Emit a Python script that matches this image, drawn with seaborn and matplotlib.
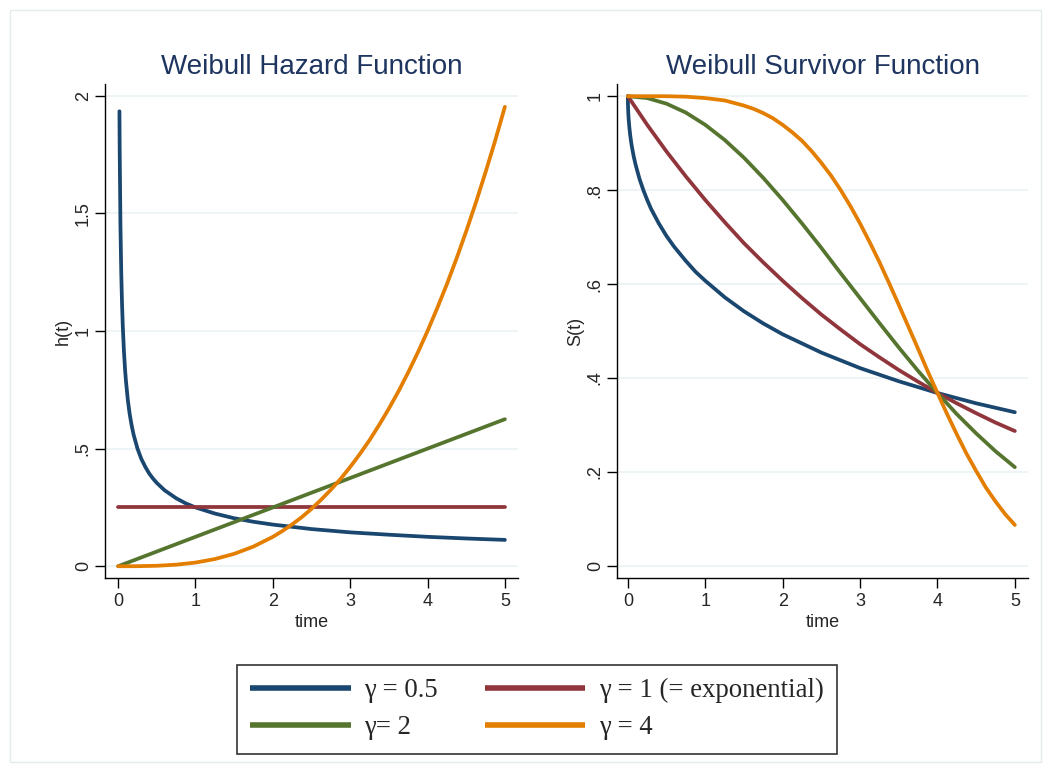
import matplotlib.pyplot as plt
import matplotlib.patches as mpatches
from matplotlib.lines import Line2D
import seaborn as sns
import pandas as pd

# hazard h(t)
haz_t_05 = [0.0167, 0.02, 0.03, 0.04, 0.05, 0.06, 0.075, 0.09, 0.1, 0.125, 0.15, 0.175, 0.2,
            0.25, 0.3, 0.35, 0.4, 0.45, 0.5, 0.6, 0.75, 0.875, 1.0, 1.25, 1.5, 1.75, 2.0,
            2.5, 3.0, 3.5, 4.0, 4.5, 5.0]
haz_05 = [1.934, 1.768, 1.443, 1.25, 1.118, 1.021, 0.913, 0.833, 0.791, 0.707, 0.645, 0.598, 0.559,
          0.5, 0.456, 0.423, 0.395, 0.373, 0.354, 0.323, 0.289, 0.267, 0.25, 0.224, 0.204, 0.189, 0.177,
          0.158, 0.144, 0.134, 0.125, 0.118, 0.112]
haz_t_1 = [0.0, 5.0]
haz_1 = [0.25, 0.25]
haz_t_2 = [0.0, 5.0]
haz_2 = [0.0, 0.625]
haz_t_4 = [0.0, 0.25, 0.5, 0.75, 1.0, 1.25, 1.5, 1.75, 2.0, 2.125, 2.25, 2.375, 2.5, 2.625,
           2.75, 2.875, 3.0, 3.125, 3.25, 3.375, 3.5, 3.625, 3.75, 3.875, 4.0, 4.125, 4.25,
           4.375, 4.5, 4.625, 4.75, 4.875, 5.0]
haz_4 = [0.0, 0.0002, 0.002, 0.0066, 0.0156, 0.0305, 0.0527, 0.0837, 0.125, 0.150, 0.178, 0.209,
         0.244, 0.283, 0.325, 0.371, 0.422, 0.477, 0.536, 0.601, 0.670, 0.744, 0.824, 0.909,
         1.0, 1.097, 1.199, 1.308, 1.424, 1.546, 1.675, 1.810, 1.953]

# survivor S(t)
surv_t_05 = [0.0, 0.001, 0.002, 0.005, 0.01, 0.02, 0.03, 0.04, 0.05, 0.075, 0.1, 0.15, 0.2,
             0.25, 0.3, 0.4, 0.5, 0.6, 0.75, 0.875, 1.0, 1.25, 1.5, 1.75, 2.0, 2.5, 3.0,
             3.5, 4.0, 4.5, 5.0]
surv_05 = [1.0, 0.984, 0.978, 0.965, 0.951, 0.932, 0.917, 0.905, 0.894, 0.872, 0.854, 0.824, 0.800,
           0.779, 0.760, 0.729, 0.702, 0.679, 0.649, 0.626, 0.607, 0.572, 0.542, 0.516, 0.493,
           0.454, 0.421, 0.393, 0.368, 0.346, 0.327]
surv_t = [0.0, 0.25, 0.5, 0.75, 1.0, 1.25, 1.5, 1.75, 2.0, 2.25, 2.5, 2.75, 3.0,
          3.25, 3.5, 3.75, 4.0, 4.25, 4.5, 4.75, 5.0]
surv_1 = [1.0, 0.939, 0.882, 0.829, 0.779, 0.732, 0.687, 0.646, 0.607, 0.570, 0.535, 0.503, 0.472,
          0.444, 0.417, 0.392, 0.368, 0.346, 0.325, 0.305, 0.287]
surv_2 = [1.0, 0.996, 0.984, 0.965, 0.939, 0.907, 0.869, 0.826, 0.779, 0.729, 0.677, 0.623, 0.570,
          0.517, 0.465, 0.415, 0.368, 0.323, 0.282, 0.244, 0.210]
surv_t_4 = [0.0, 0.25, 0.5, 0.75, 1.0, 1.25, 1.5, 1.625, 1.75, 1.875, 2.0, 2.125, 2.25, 2.375,
            2.5, 2.625, 2.75, 2.875, 3.0, 3.125, 3.25, 3.375, 3.5, 3.625, 3.75, 3.875, 4.0,
            4.125, 4.25, 4.375, 4.5, 4.625, 4.75, 4.875, 5.0]
surv_4 = [1.0, 1.0, 1.0, 0.999, 0.996, 0.991, 0.980, 0.973, 0.964, 0.953, 0.939, 0.923, 0.905, 0.883,
          0.858, 0.831, 0.800, 0.766, 0.729, 0.689, 0.647, 0.602, 0.556, 0.509, 0.462, 0.414, 0.368,
          0.323, 0.280, 0.239, 0.202, 0.167, 0.137, 0.110, 0.087]

labels = ["\u03b3 = 0.5", "\u03b3 = 1 (= exponential)", "\u03b3= 2", "\u03b3 = 4"]
colors = ["#1a476f", "#90353b", "#55752f", "#e37e00"]

sns.set_style("white")
plt.rcParams["font.family"] = ["Liberation Sans", "DejaVu Sans"]

fig = plt.figure(figsize=(10.51, 7.72), dpi=100)
fig.patch.set_facecolor("white")
fig.add_artist(mpatches.Rectangle((10 / 1051, 10 / 772), 1031 / 1051, 752 / 772,
                                  transform=fig.transFigure, fill=False,
                                  edgecolor="#e4eced", linewidth=1.0))

ax1 = fig.add_axes([0.0999, 0.2513, 0.3930, 0.6399])
ax2 = fig.add_axes([0.5871, 0.2513, 0.3910, 0.6399])

haz = [(haz_t_05, haz_05), (haz_t_1, haz_1), (haz_t_2, haz_2), (haz_t_4, haz_4)]
surv = [(surv_t_05, surv_05), (surv_t, surv_1), (surv_t, surv_2), (surv_t_4, surv_4)]

for ax, series in [(ax1, haz), (ax2, surv)]:
    for (t, v), c in zip(series, colors):
        df = pd.DataFrame({"t": t, "v": v})
        sns.lineplot(data=df, x="t", y="v", ax=ax, color=c, linewidth=2.7,
                     estimator=None, sort=False, solid_capstyle="round")

title_kw = dict(fontsize=20, color="#1e3560", pad=7)
ax1.set_title("Weibull Hazard Function", **title_kw)
ax2.set_title("Weibull Survivor Function", **title_kw)

ax1.set_xlim(-0.17, 5.17)
ax1.set_ylim(-0.05, 2.05)
ax1.set_yticks([0, 0.5, 1, 1.5, 2])
ax1.set_yticklabels(["0", ".5", "1", "1.5", "2"])
ax1.set_ylabel("h(t)", fontsize=13, labelpad=2)

ax2.set_xlim(-0.14, 5.17)
ax2.set_ylim(-0.026, 1.026)
ax2.set_yticks([0, 0.2, 0.4, 0.6, 0.8, 1])
ax2.set_yticklabels(["0", ".2", ".4", ".6", ".8", "1"])
ax2.set_ylabel("S(t)", fontsize=13, labelpad=2)

for ax in (ax1, ax2):
    ax.set_xticks([0, 1, 2, 3, 4, 5])
    ax.set_xticklabels(["0", "1", "2", "3", "4", "5"])
    ax.set_xlabel("time", fontsize=13)
    ax.xaxis.set_label_coords(0.5, -0.073)
    ax.tick_params(axis="both", direction="out", length=7, width=1.0, color="black",
                   labelsize=13, pad=4, left=True, bottom=True)
    ax.tick_params(axis="y", labelrotation=90, pad=2.5)
    for lbl in ax.get_yticklabels():
        lbl.set_verticalalignment("center")
    ax.grid(axis="y", color="#eaf2f3", linewidth=1.2)
    ax.grid(axis="x", visible=False)
    ax.set_axisbelow(True)
    for side in ("top", "right"):
        ax.spines[side].set_visible(False)
    for side in ("left", "bottom"):
        ax.spines[side].set_color("black")
        ax.spines[side].set_linewidth(1.0)

handles = [Line2D([], [], color=c, linewidth=4, solid_capstyle="butt") for c in colors]
order = [0, 2, 1, 3]
leg = fig.legend([handles[i] for i in order], [labels[i] for i in order],
                 ncol=2, loc="center", bbox_to_anchor=(0.511, 0.0816),
                 prop={"family": ["Liberation Serif", "DejaVu Serif"], "size": 19.3},
                 frameon=True, fancybox=False, edgecolor="black",
                 handlelength=3.75, handletextpad=0.5, columnspacing=1.75,
                 labelspacing=0.45, borderpad=0.5)
leg.get_frame().set_linewidth(1.2)

fig.savefig("out.png", dpi=100, facecolor="white")
